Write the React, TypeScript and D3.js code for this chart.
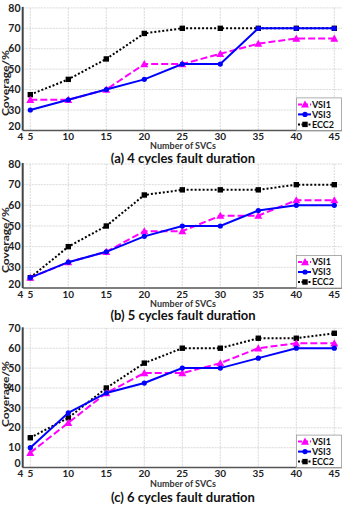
import React from "react";
import * as d3 from "d3";

const svcs = [5, 10, 15, 20, 25, 30, 35, 40, 45];
const xTicks = [4, 5, 10, 15, 20, 25, 30, 35, 40, 45];
const seriesNames = ["VSI1", "VSI3", "ECC2"];

const a_VSI1 = [35, 35, 40, 52.5, 52.5, 57.5, 62.5, 65, 65];
const a_VSI3 = [30, 35, 40, 45, 52.5, 52.5, 70, 70, 70];
const a_ECC2 = [37.5, 45, 55, 67.5, 70, 70, 70, 70, 70];

const b_VSI1 = [25, 32.5, 37.5, 47.5, 47.5, 55, 55, 62.5, 62.5];
const b_VSI3 = [25, 32.5, 37.5, 45, 50, 50, 57.5, 60, 60];
const b_ECC2 = [25, 40, 50, 65, 67.5, 67.5, 67.5, 70, 70];

const c_VSI1 = [7.5, 22.5, 37.5, 47.5, 47.5, 52.5, 60, 62.5, 62.5];
const c_VSI3 = [10, 27.5, 37.5, 42.5, 50, 50, 55, 60, 60];
const c_ECC2 = [15, 25, 40, 52.5, 60, 60, 65, 65, 67.5];

const yTicksAB = [20, 30, 40, 50, 60, 70, 80];
const yTicksC = [0, 10, 20, 30, 40, 50, 60, 70];

const titles = [
  "(a) 4 cycles fault duration",
  "(b) 5 cycles fault duration",
  "(c) 6 cycles fault duration",
];

const FONT = "Lato, 'Open Sans', sans-serif";
const colors = ["#ff00ff", "#0000ff", "#000000"];
const dashes = ["7,3", "none", "2,2"];

const x = d3.scaleLinear().domain([4, 46]).range([22.7, 341.9]);

function Marker({ kind, cx, cy }: { kind: number; cx: number; cy: number }) {
  if (kind === 0) {
    const s = 4;
    return (
      <path
        d={`M${cx},${cy - s}L${cx + s},${cy + s * 0.8}L${cx - s},${cy + s * 0.8}Z`}
        fill={colors[0]}
      />
    );
  }
  if (kind === 1) {
    return <circle cx={cx} cy={cy} r={2.6} fill={colors[1]} />;
  }
  return <rect x={cx - 2.7} y={cy - 2.7} width={5.4} height={5.4} fill="#000" />;
}

function Panel({
  data,
  yDomain,
  yRange,
  yTicks,
  title,
  titleY,
  labelY,
}: {
  data: number[][];
  yDomain: [number, number];
  yRange: [number, number];
  yTicks: number[];
  title: string;
  titleY: number;
  labelY: number;
}) {
  const y = d3.scaleLinear().domain(yDomain).range(yRange);
  const bottom = yRange[0];
  const top = yRange[1];
  const left = x.range()[0];
  const right = x.range()[1];
  const line = d3
    .line<number>()
    .x((_, i) => x(svcs[i]))
    .y((v) => y(v));
  const order = [2, 0, 1];
  return (
    <g>
      {yTicks
        .filter((t) => t !== yDomain[0])
        .map((t) => (
          <line
            key={"h" + t}
            x1={left}
            x2={right}
            y1={y(t)}
            y2={y(t)}
            stroke="#cfcfcf"
            strokeWidth={0.8}
            strokeDasharray="2,1"
          />
        ))}
      {svcs.map((t) => (
        <line
          key={"v" + t}
          x1={x(t)}
          x2={x(t)}
          y1={top}
          y2={bottom}
          stroke="#cfcfcf"
          strokeWidth={0.8}
          strokeDasharray="2,1"
        />
      ))}
      <line x1={left} x2={right} y1={bottom} y2={bottom} stroke="#555" strokeWidth={1.5} />
      <line x1={left} x2={left} y1={top - 1} y2={bottom} stroke="#444" strokeWidth={2} />
      {yTicks.map((t) => (
        <text
          key={"yl" + t}
          x={20.5}
          y={y(t) - (t === yDomain[0] ? 4 : 0)}
          dy="0.35em"
          textAnchor="end"
          fontSize={10.5}
          fontWeight="bold"
          fontFamily={FONT}
          fill="#222"
        >
          {t}
        </text>
      ))}
      {xTicks.map((t) => (
        <text
          key={"xl" + t}
          x={t === 4 ? 20.5 : x(t)}
          y={bottom + 9.8}
          textAnchor="middle"
          fontSize={10}
          fontWeight="bold"
          fontFamily={FONT}
          fill="#222"
        >
          {t}
        </text>
      ))}
      <text
        x={183}
        y={bottom + 19}
        textAnchor="middle"
        fontSize={9}
        fontWeight="bold"
        fontFamily={FONT}
        fill="#333"
      >
        Number of SVCs
      </text>
      <text
        transform={`translate(8.8,${labelY}) rotate(-90)`}
        textAnchor="middle"
        fontSize={10}
        fontWeight="bold"
        fontFamily={FONT}
        fill="#222"
        textLength={66}
        lengthAdjust="spacingAndGlyphs"
      >
        Coverage/%
      </text>
      <text
        x={183}
        y={titleY}
        textAnchor="middle"
        fontSize={13}
        fontWeight="bold"
        fontFamily={FONT}
        fill="#111"
      >
        {title}
      </text>
      {order.map((k) => (
        <g key={"s" + k}>
          <path
            d={line(data[k]) || ""}
            fill="none"
            stroke={colors[k]}
            strokeWidth={2}
            strokeDasharray={dashes[k]}
          />
          {data[k].map((v, i) => (
            <Marker key={i} kind={k} cx={x(svcs[i])} cy={y(v)} />
          ))}
        </g>
      ))}
      <g>
        <rect
          x={296.5}
          y={bottom - 32.5}
          width={45}
          height={32.5}
          fill="#fff"
          stroke="#999"
          strokeWidth={0.8}
        />
        {seriesNames.map((n, k) => {
          const ly = bottom - 26 + k * 10;
          return (
            <g key={n}>
              <line
                x1={298}
                x2={311}
                y1={ly}
                y2={ly}
                stroke={colors[k]}
                strokeWidth={2}
                strokeDasharray={k === 0 ? "4,2" : k === 2 ? "2,1.5" : "none"}
              />
              <Marker kind={k} cx={305} cy={ly} />
              <text
                x={312}
                y={ly}
                dy="0.35em"
                fontSize={9}
                fontWeight="bold"
                fontFamily={FONT}
                fill="#111"
              >
                {n}
              </text>
            </g>
          );
        })}
      </g>
    </g>
  );
}

export default function App() {
  return (
    <svg
      width={346}
      height={505}
      style={{ position: "absolute", left: 0, top: 0, background: "#fff" }}
    >
      <rect width={346} height={505} fill="#fff" />
      <Panel
        data={[a_VSI1, a_VSI3, a_ECC2]}
        yDomain={[20, 80]}
        yRange={[130.4, 7.9]}
        yTicks={yTicksAB}
        title={titles[0]}
        titleY={162.5}
        labelY={83}
      />
      <Panel
        data={[b_VSI1, b_VSI3, b_ECC2]}
        yDomain={[20, 80]}
        yRange={[288, 164]}
        yTicks={yTicksAB}
        title={titles[1]}
        titleY={320}
        labelY={240}
      />
      <Panel
        data={[c_VSI1, c_VSI3, c_ECC2]}
        yDomain={[0, 70]}
        yRange={[467.6, 328.3]}
        yTicks={yTicksC}
        title={titles[2]}
        titleY={501.5}
        labelY={394}
      />
    </svg>
  );
}
